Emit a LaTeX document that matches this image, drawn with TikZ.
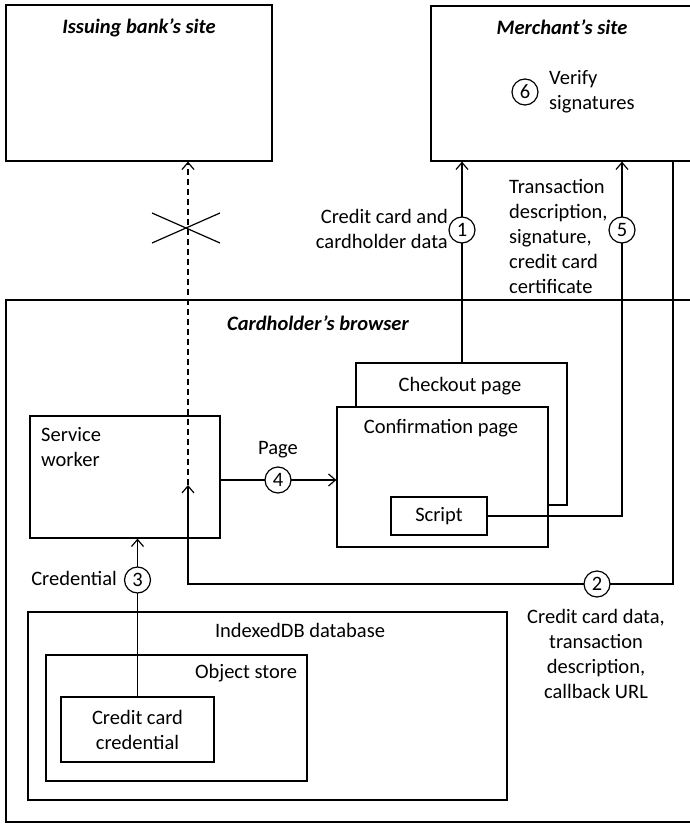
\documentclass[tikz,border=0pt]{standalone}
\usepackage{fontspec}
\setmainfont{Carlito}
\usetikzlibrary{arrows.meta}
\begin{document}
\begin{tikzpicture}[x=1pt,y=-1pt,
  every node/.style={font=\fontsize{20.5}{25}\selectfont},
  box/.style={draw, line width=1.2pt, fill=white, inner sep=0pt},
  lbl/.style={inner sep=0pt, align=center},
  num/.style={draw, circle, line width=1.2pt, fill=white, minimum size=26pt, inner sep=0pt},
  arr/.style={line width=1.2pt, -{Straight Barb[length=7pt,width=12pt,line width=1.2pt]}},
  ln/.style={line width=1.2pt}]
\clip (0,0) rectangle (690,824);
\fill[white] (0,0) rectangle (690,824);
% boxes
\node[box, minimum width=266pt, minimum height=156pt] (bank) at (139,83) {};
\node[box, minimum width=269pt, minimum height=155pt] (merchant) at (565.5,83.5) {};
\node[box, minimum width=694pt, minimum height=522pt] (browser) at (353,561) {};
\node[box, minimum width=190pt, minimum height=122pt] (sw) at (125,477) {};
\node[box, minimum width=211pt, minimum height=142pt] (checkout) at (461.5,434) {};
\node[box, minimum width=211pt, minimum height=140pt] (conf) at (442.5,477) {};
\node[box, minimum width=96pt, minimum height=38pt] (script) at (439,516) {Script};
\node[box, minimum width=479pt, minimum height=188pt] (idb) at (267.5,706) {};
\node[box, minimum width=261pt, minimum height=126pt] (store) at (176.5,718) {};
\node[box, minimum width=153pt, minimum height=65pt, align=center] (ccc) at (137.5,729.5) {Credit card\\credential};
% titles
\node[lbl, font=\fontsize{20.5}{25}\selectfont\bfseries\itshape] (tbank) at (139,28) {Issuing bank’s site};
\node[lbl, font=\fontsize{20.5}{25}\selectfont\bfseries\itshape] (tmerch) at (562,27) {Merchant’s site};
\node[lbl, font=\fontsize{20.5}{25}\selectfont\bfseries\itshape] (tbrow) at (318,323) {Cardholder’s browser};
\node[lbl, anchor=west, align=left] (tsw) at (41,447) {Service\\worker};
\node[lbl] (tcheck) at (460,386) {Checkout page};
\node[lbl] (tconf) at (441,428) {Confirmation page};
\node[lbl] (tidb) at (300,630) {IndexedDB database};
\node[lbl] (tstore) at (246,673) {Object store};
\node[num] (n6) at (525,92) {6};
\node[lbl, anchor=west, align=left] (tverify) at (549,92) {Verify\\signatures};
% coordinates
\coordinate (x1) at (462,0);
\coordinate (x5) at (622,0);
\coordinate (c2) at (673,584);
\coordinate (swtip) at (188,485);
\coordinate (y4) at (0,480);
% connector 1
\draw[arr] (x1 |- checkout.north) -- (x1 |- merchant.south);
\node[num] (n1) at (462,230) {1};
\node[lbl, anchor=east, align=right] (t1) at (448,229) {Credit card and\\cardholder data};
% connector 5
\draw[arr] (script.east) -| (x5 |- merchant.south);
\node[num] (n5) at (622,230) {5};
\node[lbl, anchor=west, align=left] (t5) at (509,236) {Transaction\\description,\\signature,\\credit card\\certificate};
% connector 2
\draw[arr] (c2 |- merchant.south) -- (c2) -- (swtip |- c2) -- (swtip);
\node[num] (n2) at (597,584) {2};
\node[lbl] (t2) at (596,654) {Credit card data,\\transaction\\description,\\callback URL};
% dashed blocked request
\draw[arr, dashed, dash pattern=on 6pt off 4pt] (swtip) -- (swtip |- bank.south);
\coordinate (xc) at (188,228);
\draw[ln] ([shift={(-36,-15)}]xc) -- ([shift={(32,15)}]xc);
\draw[ln] ([shift={(-36,15)}]xc) -- ([shift={(32,-15)}]xc);
% connector 4
\draw[arr] (sw.east |- y4) -- (conf.west |- y4);
\node[num] (n4) at (278,480) {4};
\node[lbl] (t4) at (278,450) {Page};
% connector 3
\draw[arr] (ccc.north) -- (sw.south -| ccc.north);
\node[num] (n3) at (137.5,580) {3};
\node[lbl, anchor=east] (t3) at (117,578) {Credential};
\end{tikzpicture}
\end{document}
